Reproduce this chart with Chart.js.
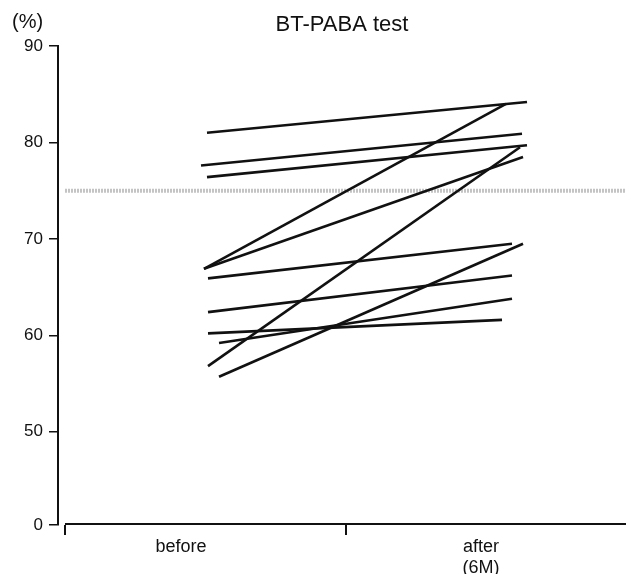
<!DOCTYPE html>
<html>
<head>
  <script src="https://cdn.jsdelivr.net/npm/chart.js@4"></script>
  <style>
    body { margin: 0; background: #fff; }
  </style>
</head>
<body>
  <canvas id="myChart" width="626" height="574"></canvas>
  <script>
    // x runs 0-100 across the plot width
    const categories = ['before', ['after', '(6M)']];
    const categoryX = [21.65, 74.47];
    const axisStartX = 1.23;
    const middleTickX = 50.7;

    const beforeX = [26.23, 25.18, 26.23, 25.7, 25.7, 26.41, 26.41, 26.41, 28.35, 26.41, 28.35];
    const beforeValues = [81.0, 77.6, 76.4, 66.9, 66.9, 65.9, 62.4, 60.2, 59.2, 56.8, 55.7];
    const afterX = [82.57, 81.69, 82.57, 78.87, 81.87, 79.93, 79.93, 78.17, 79.93, 81.34, 81.87];
    const afterValues = [84.2, 80.9, 79.7, 84.0, 78.5, 69.5, 66.2, 61.6, 63.8, 79.5, 69.5];

    const referenceValue = 75;
    const yTicks = [40.33, 50, 60, 70, 80, 90]; // first one is the broken-axis "0"

    const FONT = '"Liberation Sans", Arial, sans-serif';
    const INK = '#111';

    const datasets = beforeValues.map((v, i) => ({
      data: [{ x: beforeX[i], y: v }, { x: afterX[i], y: afterValues[i] }],
      borderColor: INK,
      borderWidth: 2.6,
      pointRadius: 0,
      order: 0,
    }));
    datasets.push({
      data: [{ x: axisStartX, y: referenceValue }, { x: 100, y: referenceValue }],
      borderColor: 'rgba(165,165,165,0.65)',
      borderWidth: 4,
      borderDash: [2, 1],
      pointRadius: 0,
      order: 1,
    });

    const extras = {
      id: 'extras',
      afterDraw(chart) {
        const { ctx, chartArea, scales: { x } } = chart;
        ctx.save();
        ctx.strokeStyle = INK;
        ctx.lineWidth = 2;
        ctx.beginPath();
        ctx.moveTo(x.getPixelForValue(axisStartX), chartArea.bottom - 1);
        ctx.lineTo(chartArea.right, chartArea.bottom - 1);
        ctx.stroke();
        ctx.fillStyle = INK;
        ctx.font = '20px ' + FONT;
        ctx.textAlign = 'left';
        ctx.textBaseline = 'middle';
        ctx.fillText('(%)', 12, 22);
        ctx.restore();
      },
    };

    new Chart(document.getElementById('myChart'), {
      type: 'line',
      data: { datasets },
      plugins: [extras],
      options: {
        responsive: false,
        devicePixelRatio: 1,
        animation: false,
        layout: { padding: 0 },
        plugins: {
          legend: { display: false },
          tooltip: { enabled: false },
          title: {
            display: true,
            text: 'BT-PABA test',
            fullSize: false,
            color: INK,
            font: { family: FONT, size: 22, weight: 'normal' },
            padding: { top: 12, bottom: 7.6 },
          },
        },
        scales: {
          x: {
            type: 'linear',
            min: 0,
            max: 100,
            afterFit: (s) => { s.height = 49; },
            afterBuildTicks: (s) => {
              s.ticks = [axisStartX, categoryX[0], middleTickX, categoryX[1]].map(v => ({ value: v }));
            },
            border: { display: false },
            grid: {
              drawOnChartArea: false,
              tickLength: 10,
              lineWidth: 2,
              color: (c) => (c.tick && categoryX.includes(c.tick.value) ? 'rgba(0,0,0,0)' : INK),
            },
            ticks: {
              autoSkip: false,
              maxRotation: 0,
              padding: 2,
              color: INK,
              font: { family: FONT, size: 18, lineHeight: 1.15 },
              callback: (v) => {
                const i = categoryX.indexOf(v);
                return i >= 0 ? categories[i] : '';
              },
            },
          },
          y: {
            min: yTicks[0],
            max: 90,
            afterFit: (s) => { s.width = 58; },
            afterBuildTicks: (s) => {
              s.ticks = yTicks.map(v => ({ value: v }));
            },
            border: { display: true, color: INK, width: 2 },
            grid: { drawOnChartArea: false, tickLength: 9, color: INK, lineWidth: 1.5 },
            ticks: {
              padding: 6,
              color: INK,
              font: { family: FONT, size: 17 },
              callback: (v) => (v === yTicks[0] ? '0' : v),
            },
          },
        },
      },
    });
  </script>
</body>
</html>
